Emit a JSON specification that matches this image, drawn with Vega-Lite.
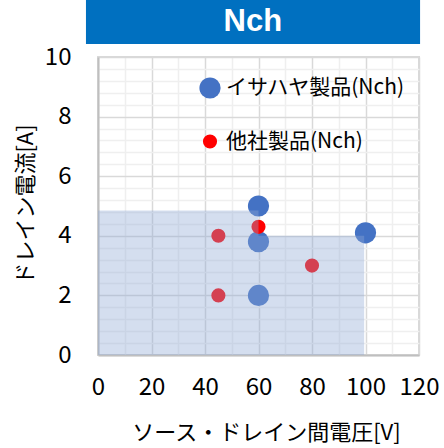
{
  "$schema": "https://vega.github.io/schema/vega-lite/v6.json",
  "width": 321,
  "height": 298,
  "autosize": "none",
  "padding": {"left": 98, "top": 57, "right": 25, "bottom": 93},
  "background": "white",
  "config": {
    "view": {"stroke": "#d9d9d9", "strokeWidth": 2},
    "axis": {
      "labelFont": "Noto Sans CJK JP",
      "titleFont": "Noto Sans CJK JP",
      "labelColor": "#000000",
      "titleColor": "#000000",
      "titleFontWeight": "normal",
      "labelFontSize": 24,
      "titleFontSize": 22,
      "labelOverlap": false,
      "labelBound": false,
      "labelFlush": false
    },
    "legend": {
      "labelFont": "Noto Sans CJK JP",
      "labelFontSize": 21,
      "labelColor": "#000000",
      "labelLimit": 0
    }
  },
  "datasets": {
    "points": [
      {"series": "イサハヤ製品(Nch)", "vds": 60, "id": 5.0},
      {"series": "イサハヤ製品(Nch)", "vds": 60, "id": 3.8},
      {"series": "イサハヤ製品(Nch)", "vds": 60, "id": 2.0},
      {"series": "イサハヤ製品(Nch)", "vds": 100, "id": 4.1},
      {"series": "他社製品(Nch)", "vds": 45, "id": 4.0},
      {"series": "他社製品(Nch)", "vds": 45, "id": 2.0},
      {"series": "他社製品(Nch)", "vds": 80, "id": 3.0},
      {"series": "他社製品(Nch)", "vds": 60, "id": 4.3}
    ],
    "region": [
      {"vds": 0, "id": 4.85},
      {"vds": 60, "id": 4.0},
      {"vds": 99.5, "id": 4.0}
    ]
  },
  "resolve": {"axis": {"x": "independent", "y": "independent"}},
  "layer": [
    {
      "data": {"values": [{}]},
      "mark": {"type": "rect", "fill": "#0070c0", "clip": false},
      "encoding": {
        "x": {"datum": -4.5, "type": "quantitative", "scale": {"domain": [0, 120], "nice": false, "zero": false},
          "axis": {"orient": "bottom", "values": [10, 30, 50, 70, 90, 110], "grid": true, "gridColor": "#efefef", "gridWidth": 1.5, "labels": false, "ticks": false, "domain": false, "title": null}},
        "x2": {"datum": 120.4},
        "y": {"datum": 10.44, "type": "quantitative", "scale": {"domain": [0, 10], "nice": false, "zero": false},
          "axis": {"orient": "left", "values": [0.4, 0.8, 1.2, 1.6, 2.4, 2.8, 3.2, 3.6, 4.4, 4.8, 5.2, 5.6, 6.4, 6.8, 7.2, 7.6, 8.4, 8.8, 9.2, 9.6], "grid": true, "gridColor": "#efefef", "gridWidth": 1.5, "labels": false, "ticks": false, "domain": false, "title": null}},
        "y2": {"datum": 11.91}
      }
    },
    {
      "data": {"values": [{}]},
      "mark": {"type": "text", "text": "Nch", "color": "white", "font": "Liberation Sans", "fontWeight": "bold", "fontSize": 31, "baseline": "middle", "align": "center"},
      "encoding": {
        "x": {"datum": 57.9, "type": "quantitative", "scale": {"domain": [0, 120], "nice": false, "zero": false}, "axis": null},
        "y": {"datum": 11.17, "type": "quantitative", "scale": {"domain": [0, 10], "nice": false, "zero": false}, "axis": null}
      }
    },
    {
      "data": {"name": "points"},
      "mark": {"type": "point", "shape": "circle", "filled": true, "opacity": 1, "strokeWidth": 0},
      "encoding": {
        "x": {"field": "vds", "type": "quantitative", "scale": {"domain": [0, 120], "nice": false, "zero": false},
          "axis": {"orient": "bottom", "values": [0, 20, 40, 60, 80, 100, 120], "grid": true, "gridColor": "#d9d9d9", "gridWidth": 1.5, "ticks": false, "domain": true, "domainColor": "#bfbfbf", "domainWidth": 2, "labelPadding": 20, "title": "ソース・ドレイン間電圧[V]", "titleX": 168, "titleY": 77, "titleBaseline": "middle", "titleAnchor": null}},
        "y": {"field": "id", "type": "quantitative", "scale": {"domain": [0, 10], "nice": false, "zero": false},
          "axis": {"orient": "left", "values": [0, 2, 4, 6, 8, 10], "grid": true, "gridColor": "#d9d9d9", "gridWidth": 1.5, "ticks": false, "domain": true, "domainColor": "#bfbfbf", "domainWidth": 2, "labelPadding": 27, "title": "ドレイン電流[A]", "titleX": -73, "titleY": 147, "titleAngle": -90, "titleBaseline": "middle", "titleAlign": "center"}},
        "color": {"field": "series", "type": "nominal",
          "scale": {"domain": ["イサハヤ製品(Nch)", "他社製品(Nch)"], "range": ["#4472c4", "#ff0000"]},
          "legend": {"orient": "none", "legendX": 101, "legendY": 20, "title": null, "symbolType": "circle", "symbolSize": 227, "symbolStrokeWidth": 0, "labelOffset": 5, "rowPadding": 31, "padding": 0, "labelLimit": 0,
            "encode": {"symbols": {"update": {"size": {"signal": "datum.value === 'イサハヤ製品(Nch)' ? 227 : 133"}}}}}},
        "size": {"field": "series", "type": "nominal",
          "scale": {"domain": ["イサハヤ製品(Nch)", "他社製品(Nch)"], "range": [450, 200]},
          "legend": null}
      }
    },
    {
      "data": {"name": "region"},
      "mark": {"type": "area", "interpolate": "step-after", "fill": "#8ea8d5", "opacity": 0.38},
      "encoding": {
        "x": {"field": "vds", "type": "quantitative", "scale": {"domain": [0, 120], "nice": false, "zero": false}, "axis": null},
        "y": {"field": "id", "type": "quantitative", "scale": {"domain": [0, 10], "nice": false, "zero": false}, "axis": null}
      }
    }
  ]
}
